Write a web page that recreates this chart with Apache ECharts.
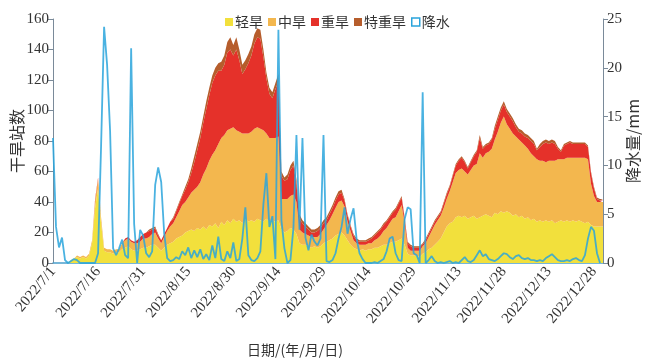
<!DOCTYPE html>
<html><head><meta charset="utf-8">
<script src="https://cdn.jsdelivr.net/npm/echarts@6/dist/echarts.min.js"></script>
<style>html,body{margin:0;padding:0;background:#fff}#c{width:648px;height:360px}</style>
</head><body><div id="c"></div>
<script>
// daily categories 2022/7/1 .. 2022/12/31
const dayCount = 184;
const dates = [];
(function(){const d=new Date(2022,6,1);for(let i=0;i<dayCount;i++){dates.push(d.getFullYear()+'/'+(d.getMonth()+1)+'/'+d.getDate());d.setDate(d.getDate()+1);}})();

const seriesNames = ['轻旱','中旱','重旱','特重旱','降水'];
const leftTicks = [0,20,40,60,80,100,120,140,160];
const rightTicks = [0,5,10,15,20,25];

// 轻旱 light drought stations
const light = [0,0,0,0,0,0,2,3,4,3,4,3,5,13,36,49,26,8,7,7,6,7,7,9,10,11,9,8,8,9,10,10,11,12,12,10,8,10,12,13,14,16,17,18,20,21,22,21,23,22,24,22,25,24,26,23,27,25,28,26,29,27,28,26,29,27,28,27,29,28,27,29,27,28,27,28,22,20,21,23,22,19,13,12,12,11,10,11,10,11,13,14,15,16,18,19,20,18,15,12,10,9,8,9,8,9,9,10,10,11,12,12,13,14,14,15,16,12,6,5,5,5,4,6,7,9,10,12,14,16,20,24,26,27,30,31,30,31,29,30,31,29,30,31,32,31,30,33,32,34,33,34,33,31,32,30,31,29,30,28,29,27,28,27,28,27,28,26,27,28,27,28,27,28,27,28,27,26,27,25,24,24,24,24];
// 中旱 moderate drought stations
const moderate = [0,0,0,0,0,0,0,0,1,1,1,1,1,2,5,6,4,2,2,2,2,2,2,4,5,5,5,5,5,5,6,6,6,7,8,6,5,7,9,11,12,14,17,20,20,22,24,27,27,31,34,40,42,47,48,55,55,59,59,62,60,60,58,59,56,58,58,61,60,60,60,56,55,54,55,55,20,22,21,21,23,21,9,8,7,7,7,6,7,8,9,11,13,16,18,21,21,19,12,9,5,4,4,3,4,4,4,5,6,7,9,11,13,15,16,19,22,14,4,3,3,3,4,5,6,8,11,13,14,15,16,18,21,26,29,30,32,29,29,31,33,36,42,38,40,42,45,48,54,58,63,57,55,54,51,51,48,48,45,44,41,41,39,40,38,40,39,41,41,40,41,41,42,41,42,41,42,43,41,27,20,16,16,16];
// 重旱 severe drought stations
const severe = [0,0,0,0,0,0,0,0,0,0,0,0,0,0,1,1,0,0,0,0,0,0,0,0,1,1,1,1,2,3,3,4,4,3,3,2,2,2,2,3,3,4,5,6,8,10,13,18,24,29,34,39,43,47,49,48,44,46,51,52,47,53,47,39,42,46,50,56,59,59,48,36,29,26,32,36,15,12,13,17,19,12,7,6,5,4,3,3,4,4,4,3,4,4,5,5,5,4,4,3,3,2,2,2,2,2,3,3,4,4,4,4,4,4,5,5,5,3,3,3,2,2,2,1,2,2,2,2,2,2,3,3,3,4,5,6,7,6,4,5,6,8,10,6,5,5,6,7,8,8,8,8,8,8,6,5,6,6,7,8,8,6,9,11,13,11,12,11,7,5,9,9,10,9,9,9,9,9,8,7,5,2,1,1];
// 特重旱 extreme drought stations
const extreme = [0,0,0,0,0,0,0,0,0,0,0,0,0,0,0,0,0,0,0,0,0,0,0,0,0,0,0,0,0,0,0,0,1,1,1,1,0,0,0,0,1,1,1,1,2,2,3,4,4,4,4,5,5,5,5,5,6,6,7,8,7,8,7,6,6,6,6,6,6,6,5,4,4,4,4,5,3,2,3,3,3,3,3,2,2,2,2,2,2,2,2,2,2,2,2,2,2,1,1,1,1,1,1,1,1,1,1,1,1,1,1,1,1,1,1,1,1,1,1,1,1,1,1,1,1,1,1,1,1,1,1,1,1,1,1,1,1,1,1,1,1,1,2,1,1,1,1,2,2,2,2,2,2,2,2,2,2,2,2,2,2,1,2,2,2,2,2,2,1,1,1,1,1,1,1,1,1,1,1,1,1,1,1,1];
// 降水 precipitation (mm)
const precip = [12.8,3.7,1.6,2.6,0.3,0,0.2,0.4,0.3,0,0,0,0,0,0,1,12,24.2,20.3,13.5,1.5,0.8,1.5,2.4,0.8,0.5,22,4,0,3.4,2.8,1,0.6,1.2,8,9.8,8.3,3,0.5,0.2,0.3,0.6,0.4,1.2,0.8,1.6,0.5,1.3,0.6,1.4,0.4,0.9,0.3,1.8,0.5,2.7,0.4,0.2,1.2,0.5,2.1,0.2,0.4,2.5,5.7,0.8,0.3,0.2,0.5,1.2,6,9.2,3.7,4.8,0.4,23.9,4.4,1.5,0,0.3,3.6,13.1,3.4,12.8,2.6,1.3,2.9,2.2,1.8,2.5,13.1,0.2,0.1,0.3,1,2.5,3.7,5.7,3,4.5,5.6,2.5,1,0.4,0,0,0,0.1,0,0.2,0.4,1.2,2.5,2.7,1,0.3,0.2,4.5,5.7,5.5,1,0.8,0,17.5,0,0.3,0.7,0.2,0,0.1,0,0.1,0.2,0,0.1,0,0.3,0.6,0.2,0.1,0.3,0.8,1.3,0.7,0.9,0.4,0.3,0.2,0.4,0.7,1,0.9,0.6,0.4,0.7,0.8,0.5,0.4,0.5,0.3,0.3,0.2,0.3,0.2,0.5,0.7,0.9,0.6,0.3,0.2,0.2,0.3,0.2,0.4,0.5,0.3,0.2,0.8,2.5,3.7,3.3,1,0];

const colors = ['#f2e03c','#f3b74e','#e5312a','#b65d2c','#2aa4dc'];
const serif = 'Liberation Serif';
const cjk = 'Noto Sans CJK SC';

const chart = echarts.init(document.getElementById('c'));
const areaSeries = [light, moderate, severe, extreme].map((arr, i) => ({
  name: seriesNames[i], type: 'line', stack: 'drought', yAxisIndex: 0,
  data: arr, symbol: 'none', smooth: false,
  lineStyle: {width: 0}, areaStyle: {color: colors[i], opacity: 1},
  itemStyle: {color: colors[i]}
}));
chart.setOption({
  animation: false,
  grid: {left: 53, right: 45, top: 19, bottom: 97, outerBoundsMode: 'none', containLabel: false},
  legend: {
    top: 10, left: 220,
    itemWidth: 8, itemHeight: 8, itemGap: 5,
    textStyle: {fontFamily: cjk, fontSize: 14, color: '#333', padding: [0,0,0,-3]},
    data: [
      {name: '轻旱', icon: 'rect'}, {name: '中旱', icon: 'rect'},
      {name: '重旱', icon: 'rect'}, {name: '特重旱', icon: 'rect'},
      {name: '降水', icon: 'rect', itemStyle: {color: '#fff', borderColor: colors[4], borderWidth: 1.5}}
    ]
  },
  xAxis: {
    type: 'category', data: dates, boundaryGap: false,
    name: '日期/(年/月/日)', nameLocation: 'middle', nameGap: 80, nameMoveOverlap: false,
    nameTextStyle: {fontFamily: cjk, fontSize: 14, color: '#333', padding: [0, 66, 0, 0]},
    axisLine: {lineStyle: {color: '#4a9fcc', width: 1.5}},
    axisTick: {show: false},
    axisLabel: {interval: 14, rotate: 50, fontFamily: serif, fontSize: 15, color: '#333', margin: 6}
  },
  yAxis: [{
    type: 'value', min: 0, max: 160, interval: 20,
    name: '干旱站数', nameLocation: 'middle', nameGap: 28, nameMoveOverlap: false,
    nameTextStyle: {fontFamily: cjk, fontSize: 16, color: '#333'},
    splitLine: {show: false},
    axisLine: {show: true, lineStyle: {color: '#7a8a99'}},
    axisTick: {show: true, length: 5, lineStyle: {color: '#7a8a99'}},
    axisLabel: {fontFamily: serif, fontSize: 15, color: '#333', margin: 4}
  }, {
    type: 'value', min: 0, max: 25, interval: 5, position: 'right',
    name: '降水量/mm', nameLocation: 'middle', nameGap: 22, nameRotate: 90, nameMoveOverlap: false,
    nameTextStyle: {fontFamily: cjk, fontSize: 16, color: '#333'},
    splitLine: {show: false},
    axisLine: {show: true, lineStyle: {color: '#7a8a99'}},
    axisTick: {show: true, length: 5, lineStyle: {color: '#7a8a99'}},
    axisLabel: {fontFamily: serif, fontSize: 15, color: '#333', margin: 4}
  }],
  series: areaSeries.concat([{
    name: '降水', type: 'line', yAxisIndex: 1, data: precip, symbol: 'none',
    lineStyle: {color: colors[4], width: 1.8, opacity: 0.85},
    itemStyle: {color: colors[4]}
  }])
});
</script></body></html>
